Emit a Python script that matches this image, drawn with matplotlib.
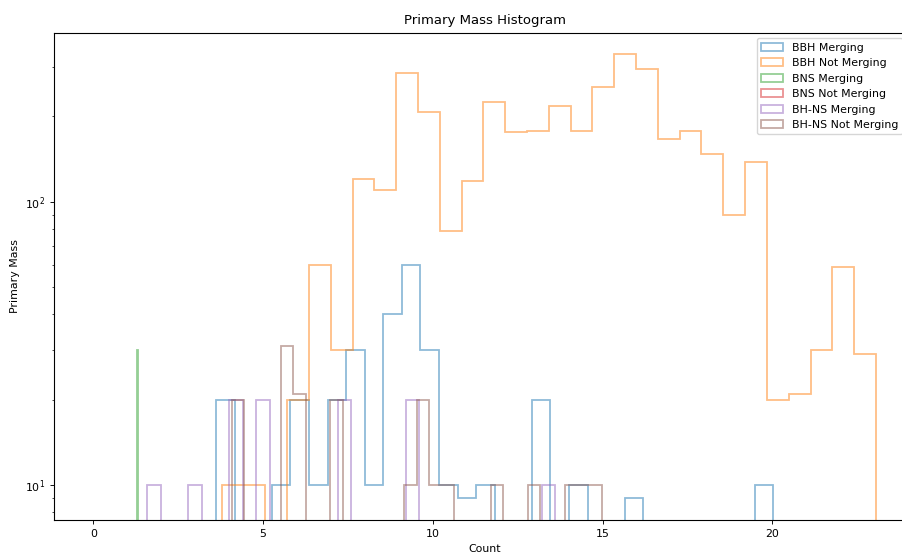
import numpy as np
import matplotlib
matplotlib.use("Agg")
import matplotlib.pyplot as plt

# ---- data ----
labels = ["BBH Merging", "BBH Not Merging", "BNS Merging",
          "BNS Not Merging", "BH-NS Merging", "BH-NS Not Merging"]

# bin ranges (lo, hi) for each histogram, 30 bins each
bbh_merg_range = (3.614, 20.03)
bbh_merg_counts = [20, 0, 0, 10, 20, 10, 20, 30, 10, 40,
                   60, 30, 10, 9, 10, 0, 0, 20, 0, 10,
                   0, 0, 9, 0, 0, 0, 0, 0, 0, 10]

bbh_not_range = (3.78, 23.05)
bbh_not_counts = [10, 10, 0, 20, 60, 30, 120, 110, 284, 207,
                  79, 118, 225, 176, 178, 217, 178, 254, 333, 294,
                  167, 178, 147, 90, 138, 20, 21, 30, 59, 29]

bns_merg_range = (0.78, 1.78)
bns_merg_counts = [0] * 15 + [30] + [0] * 14

bns_not_range = (0.0, 1.0)
bns_not_counts = [0] * 30

bhns_merg_range = (1.59, 13.61)
bhns_merg_counts = [10, 0, 0, 10, 0, 0, 20, 0, 20, 0,
                    0, 0, 0, 0, 20, 0, 0, 0, 0, 20,
                    0, 0, 0, 0, 0, 0, 0, 0, 0, 10]

bhns_not_range = (4.077, 14.975)
bhns_not_counts = [20, 0, 0, 0, 31, 21, 0, 0, 20, 0,
                   0, 0, 0, 0, 10, 20, 10, 10, 0, 0,
                   0, 10, 0, 0, 10, 0, 0, 10, 10, 10]

series = [
    (bbh_merg_range, bbh_merg_counts),
    (bbh_not_range, bbh_not_counts),
    (bns_merg_range, bns_merg_counts),
    (bns_not_range, bns_not_counts),
    (bhns_merg_range, bhns_merg_counts),
    (bhns_not_range, bhns_not_counts),
]

# ---- figure ----
fs = 7.9
plt.rcParams.update({"font.size": fs})
fig = plt.figure(figsize=(9.03, 5.54), dpi=100)
ax_left, ax_right = 54.3, 915.0
ax = fig.add_axes([ax_left / 903, 1 - 520 / 554, (ax_right - ax_left) / 903, (520 - 32.7) / 554])

for i, ((lo, hi), counts) in enumerate(series):
    edges = np.linspace(lo, hi, len(counts) + 1)
    centers = 0.5 * (edges[:-1] + edges[1:])
    ax.hist(centers, bins=edges, weights=counts, histtype="step", log=True,
            alpha=0.5, linewidth=1.3, color=f"C{i}", label=labels[i])

ax.set_xlim(-1.15, 24.2)
ax.set_ylim(7.52, 395)
ax.set_title("Primary Mass Histogram", fontsize=9.5)
ax.set_xlabel("Count", fontsize=fs)
ax.set_ylabel("Primary Mass", fontsize=fs)
for sp in ax.spines.values():
    sp.set_linewidth(0.8)
ax.tick_params(labelsize=fs, length=2.8, width=0.65)
ax.tick_params(which="minor", length=1.6, width=0.5)
# shift legend slightly left so its text stays inside the picture
anchor_x = 1 - 7.0 / (ax_right - ax_left)
ax.legend(loc="upper right", fontsize=fs, bbox_to_anchor=(anchor_x, 1.0))

fig.savefig("out.png", dpi=100)
